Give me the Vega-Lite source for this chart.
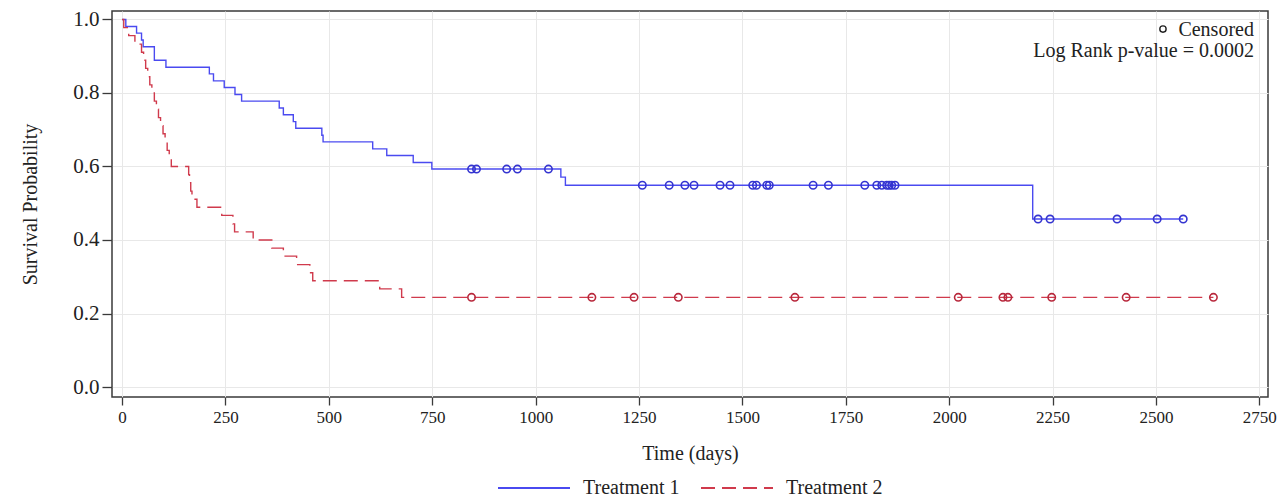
{
  "$schema": "https://vega.github.io/schema/vega-lite/v6.json",
  "width": 1156,
  "height": 386,
  "autosize": {"type": "none"},
  "padding": {"left": 112, "top": 11, "right": 14, "bottom": 101},
  "background": "white",
  "config": {
    "view": {"stroke": "#3a3a3a", "strokeWidth": 1.5},
    "font": "Liberation Serif",
    "axis": {
      "labelFont": "Liberation Serif",
      "titleFont": "Liberation Serif",
      "titleFontWeight": "normal",
      "labelColor": "#222222",
      "titleColor": "#222222",
      "gridColor": "#e8e8e8",
      "gridWidth": 1,
      "tickColor": "#3a3a3a",
      "tickWidth": 1.3,
      "domain": false
    }
  },
  "datasets": {
    "curve": [
      {"group": "Treatment 1", "time": 0, "surv": 1.0},
      {"group": "Treatment 1", "time": 9, "surv": 0.981},
      {"group": "Treatment 1", "time": 35, "surv": 0.963},
      {"group": "Treatment 1", "time": 47, "surv": 0.944},
      {"group": "Treatment 1", "time": 51, "surv": 0.926},
      {"group": "Treatment 1", "time": 78, "surv": 0.889},
      {"group": "Treatment 1", "time": 106, "surv": 0.870},
      {"group": "Treatment 1", "time": 211, "surv": 0.852},
      {"group": "Treatment 1", "time": 221, "surv": 0.833},
      {"group": "Treatment 1", "time": 247, "surv": 0.815},
      {"group": "Treatment 1", "time": 273, "surv": 0.796},
      {"group": "Treatment 1", "time": 289, "surv": 0.778},
      {"group": "Treatment 1", "time": 380, "surv": 0.759},
      {"group": "Treatment 1", "time": 390, "surv": 0.741},
      {"group": "Treatment 1", "time": 414, "surv": 0.722},
      {"group": "Treatment 1", "time": 420, "surv": 0.704},
      {"group": "Treatment 1", "time": 483, "surv": 0.685},
      {"group": "Treatment 1", "time": 486, "surv": 0.667},
      {"group": "Treatment 1", "time": 606, "surv": 0.648},
      {"group": "Treatment 1", "time": 640, "surv": 0.630},
      {"group": "Treatment 1", "time": 704, "surv": 0.611},
      {"group": "Treatment 1", "time": 749, "surv": 0.593},
      {"group": "Treatment 1", "time": 1061, "surv": 0.571},
      {"group": "Treatment 1", "time": 1072, "surv": 0.549},
      {"group": "Treatment 1", "time": 2202, "surv": 0.457},
      {"group": "Treatment 1", "time": 2566, "surv": 0.457},
      {"group": "Treatment 2", "time": 0, "surv": 1.0},
      {"group": "Treatment 2", "time": 4, "surv": 0.978},
      {"group": "Treatment 2", "time": 16, "surv": 0.956},
      {"group": "Treatment 2", "time": 31, "surv": 0.933},
      {"group": "Treatment 2", "time": 47, "surv": 0.911},
      {"group": "Treatment 2", "time": 52, "surv": 0.889},
      {"group": "Treatment 2", "time": 57, "surv": 0.867},
      {"group": "Treatment 2", "time": 62, "surv": 0.844},
      {"group": "Treatment 2", "time": 67, "surv": 0.822},
      {"group": "Treatment 2", "time": 72, "surv": 0.800},
      {"group": "Treatment 2", "time": 78, "surv": 0.778},
      {"group": "Treatment 2", "time": 83, "surv": 0.756},
      {"group": "Treatment 2", "time": 88, "surv": 0.733},
      {"group": "Treatment 2", "time": 93, "surv": 0.711},
      {"group": "Treatment 2", "time": 99, "surv": 0.689},
      {"group": "Treatment 2", "time": 104, "surv": 0.667},
      {"group": "Treatment 2", "time": 109, "surv": 0.644},
      {"group": "Treatment 2", "time": 114, "surv": 0.622},
      {"group": "Treatment 2", "time": 119, "surv": 0.600},
      {"group": "Treatment 2", "time": 161, "surv": 0.578},
      {"group": "Treatment 2", "time": 163, "surv": 0.556},
      {"group": "Treatment 2", "time": 166, "surv": 0.533},
      {"group": "Treatment 2", "time": 169, "surv": 0.511},
      {"group": "Treatment 2", "time": 181, "surv": 0.489},
      {"group": "Treatment 2", "time": 241, "surv": 0.467},
      {"group": "Treatment 2", "time": 268, "surv": 0.444},
      {"group": "Treatment 2", "time": 272, "surv": 0.422},
      {"group": "Treatment 2", "time": 317, "surv": 0.400},
      {"group": "Treatment 2", "time": 362, "surv": 0.378},
      {"group": "Treatment 2", "time": 390, "surv": 0.356},
      {"group": "Treatment 2", "time": 422, "surv": 0.333},
      {"group": "Treatment 2", "time": 454, "surv": 0.311},
      {"group": "Treatment 2", "time": 461, "surv": 0.289},
      {"group": "Treatment 2", "time": 623, "surv": 0.267},
      {"group": "Treatment 2", "time": 676, "surv": 0.244},
      {"group": "Treatment 2", "time": 2639, "surv": 0.244}
    ],
    "censor": [
      {"group": "Treatment 1", "time": 845, "surv": 0.593},
      {"group": "Treatment 1", "time": 857, "surv": 0.593},
      {"group": "Treatment 1", "time": 930, "surv": 0.593},
      {"group": "Treatment 1", "time": 956, "surv": 0.593},
      {"group": "Treatment 1", "time": 1031, "surv": 0.593},
      {"group": "Treatment 1", "time": 1258, "surv": 0.549},
      {"group": "Treatment 1", "time": 1323, "surv": 0.549},
      {"group": "Treatment 1", "time": 1361, "surv": 0.549},
      {"group": "Treatment 1", "time": 1383, "surv": 0.549},
      {"group": "Treatment 1", "time": 1446, "surv": 0.549},
      {"group": "Treatment 1", "time": 1470, "surv": 0.549},
      {"group": "Treatment 1", "time": 1525, "surv": 0.549},
      {"group": "Treatment 1", "time": 1534, "surv": 0.549},
      {"group": "Treatment 1", "time": 1559, "surv": 0.549},
      {"group": "Treatment 1", "time": 1565, "surv": 0.549},
      {"group": "Treatment 1", "time": 1671, "surv": 0.549},
      {"group": "Treatment 1", "time": 1708, "surv": 0.549},
      {"group": "Treatment 1", "time": 1796, "surv": 0.549},
      {"group": "Treatment 1", "time": 1825, "surv": 0.549},
      {"group": "Treatment 1", "time": 1837, "surv": 0.549},
      {"group": "Treatment 1", "time": 1849, "surv": 0.549},
      {"group": "Treatment 1", "time": 1855, "surv": 0.549},
      {"group": "Treatment 1", "time": 1861, "surv": 0.549},
      {"group": "Treatment 1", "time": 1869, "surv": 0.549},
      {"group": "Treatment 1", "time": 2215, "surv": 0.457},
      {"group": "Treatment 1", "time": 2244, "surv": 0.457},
      {"group": "Treatment 1", "time": 2406, "surv": 0.457},
      {"group": "Treatment 1", "time": 2503, "surv": 0.457},
      {"group": "Treatment 1", "time": 2566, "surv": 0.457},
      {"group": "Treatment 2", "time": 845, "surv": 0.244},
      {"group": "Treatment 2", "time": 1136, "surv": 0.244},
      {"group": "Treatment 2", "time": 1238, "surv": 0.244},
      {"group": "Treatment 2", "time": 1345, "surv": 0.244},
      {"group": "Treatment 2", "time": 1627, "surv": 0.244},
      {"group": "Treatment 2", "time": 2022, "surv": 0.244},
      {"group": "Treatment 2", "time": 2130, "surv": 0.244},
      {"group": "Treatment 2", "time": 2142, "surv": 0.244},
      {"group": "Treatment 2", "time": 2248, "surv": 0.244},
      {"group": "Treatment 2", "time": 2428, "surv": 0.244},
      {"group": "Treatment 2", "time": 2639, "surv": 0.244}
    ]
  },
  "layer": [
    {
      "data": {"name": "curve"},
      "mark": {"type": "line", "interpolate": "step-after", "strokeWidth": 1.4},
      "encoding": {
        "x": {
          "field": "time",
          "type": "quantitative",
          "scale": {"domain": [-24.4, 2771], "nice": false, "zero": false},
          "axis": {
            "values": [0, 250, 500, 750, 1000, 1250, 1500, 1750, 2000, 2250, 2500, 2750],
            "format": "d",
            "title": "Time (days)",
            "labelFontSize": 17,
            "titleFontSize": 20,
            "tickSize": 8,
            "labelPadding": 4,
            "titlePadding": 18,
            "grid": true,
            "labelFlush": false
          }
        },
        "y": {
          "field": "surv",
          "type": "quantitative",
          "scale": {"domain": [-0.0272, 1.0231], "nice": false, "zero": false},
          "axis": {
            "values": [0, 0.2, 0.4, 0.6, 0.8, 1.0],
            "format": ".1f",
            "title": "Survival Probability",
            "labelFontSize": 21,
            "titleFontSize": 20,
            "tickSize": 10,
            "labelPadding": 3,
            "titlePadding": 32,
            "grid": true
          }
        },
        "color": {
          "field": "group",
          "type": "nominal",
          "scale": {"domain": ["Treatment 1", "Treatment 2"], "range": ["#4a4af0", "#d03a4c"]},
          "legend": {
            "title": null,
            "orient": "none",
            "legendX": 385,
            "legendY": 440,
            "direction": "horizontal",
            "symbolType": "stroke",
            "symbolSize": 5184,
            "symbolStrokeWidth": 2,
            "labelFont": "Liberation Serif",
            "labelFontSize": 20,
            "labelColor": "#222222",
            "labelOffset": 12,
            "columnPadding": 17
          }
        },
        "strokeDash": {
          "field": "group",
          "type": "nominal",
          "scale": {"domain": ["Treatment 1", "Treatment 2"], "range": [[1, 0], [14, 7]]},
          "legend": {
            "title": null,
            "orient": "none",
            "legendX": 385,
            "legendY": 440,
            "direction": "horizontal",
            "symbolType": "stroke",
            "symbolSize": 5184,
            "symbolStrokeWidth": 2,
            "labelFont": "Liberation Serif",
            "labelFontSize": 20,
            "labelColor": "#222222",
            "labelOffset": 12,
            "columnPadding": 17
          }
        }
      }
    },
    {
      "data": {"name": "censor"},
      "mark": {"type": "point", "shape": "circle", "filled": false, "size": 55, "strokeWidth": 1.6, "opacity": 1},
      "encoding": {
        "x": {"field": "time", "type": "quantitative"},
        "y": {"field": "surv", "type": "quantitative"},
        "stroke": {
          "field": "group",
          "type": "nominal",
          "scale": {"domain": ["Treatment 1", "Treatment 2"], "range": ["#3434d0", "#b8283c"]},
          "legend": null
        }
      }
    },
    {
      "data": {"values": [{"label": "Censored"}]},
      "mark": {"type": "point", "shape": "circle", "filled": false, "size": 40, "strokeWidth": 1.4, "color": "#222222", "opacity": 1},
      "encoding": {
        "x": {"datum": 2517, "type": "quantitative"},
        "y": {"datum": 0.974, "type": "quantitative"}
      }
    },
    {
      "data": {"values": [{"label": "Censored"}]},
      "mark": {"type": "text", "align": "right", "baseline": "middle", "font": "Liberation Serif", "fontSize": 20, "color": "#222222"},
      "encoding": {
        "x": {"datum": 2737, "type": "quantitative"},
        "y": {"datum": 0.971, "type": "quantitative"},
        "text": {"field": "label"}
      }
    },
    {
      "data": {"values": [{"label": "Log Rank p-value = 0.0002"}]},
      "mark": {"type": "text", "align": "right", "baseline": "middle", "font": "Liberation Serif", "fontSize": 20, "color": "#222222"},
      "encoding": {
        "x": {"datum": 2737, "type": "quantitative"},
        "y": {"datum": 0.914, "type": "quantitative"},
        "text": {"field": "label"}
      }
    }
  ]
}
